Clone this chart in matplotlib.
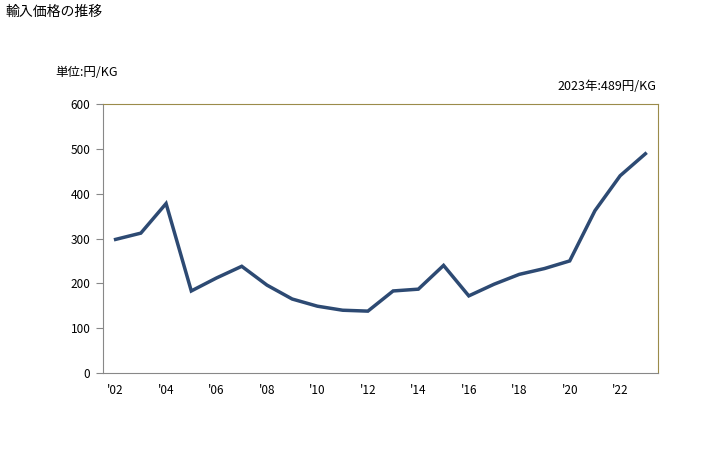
import matplotlib
matplotlib.use("Agg")
import matplotlib.pyplot as plt

plt.rcParams['font.family'] = ['Noto Sans CJK JP', 'DejaVu Sans']

years = list(range(2002, 2024))
values = [298, 312, 378, 183, 212, 238, 196, 165, 149, 140, 138, 183, 187, 240, 172, 198, 220, 233, 250, 362, 440, 489]
tick_labels = ["'02", "'04", "'06", "'08", "'10", "'12", "'14", "'16", "'18", "'20", "'22"]
yticks = [0, 100, 200, 300, 400, 500, 600]

fig = plt.figure(figsize=(7.28, 4.5), dpi=100)
ax = fig.add_axes([103/728, 1-373/450, 555/728, 269/450])

x = list(range(len(years)))
ax.plot(x, values, color='#2d4a73', linewidth=2.5, solid_joinstyle='miter')

ax.set_xlim(-0.5, len(years)-0.5)
ax.set_ylim(0, 600)
ax.set_yticks(yticks)
ax.set_yticklabels([str(v) for v in yticks], fontsize=8.5)
ax.set_xticks(list(range(0, len(years), 2)))
ax.set_xticklabels(tick_labels, fontsize=8.5)
ax.tick_params(axis='x', length=0, pad=8)
ax.tick_params(axis='y', length=5, color='#888888', pad=4)

for s in ['left', 'bottom']:
    ax.spines[s].set_color('#888888')
for s in ['top', 'right']:
    ax.spines[s].set_color('#9b8b4a')

fig.text(5/728, 1-12/450, '輸入価格の推移', fontsize=10, va='center', ha='left')
fig.text(55/728, 1-73/450, '単位:円/KG', fontsize=9, va='center', ha='left')
fig.text(656/728, 1-86/450, '2023年:489円/KG', fontsize=9, va='center', ha='right')

fig.savefig('out.png', dpi=100)
